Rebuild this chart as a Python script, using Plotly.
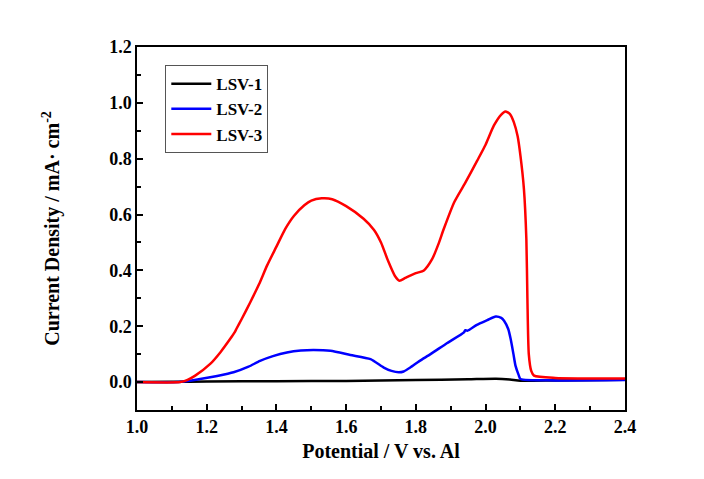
import plotly.graph_objects as go

# LSV-1 (black)
x1 = [1.0, 1.1, 1.2, 1.4, 1.6, 1.8, 1.95, 2.03, 2.07, 2.1, 2.2, 2.4]
y1 = [0.0, 0.001, 0.002, 0.003, 0.004, 0.007, 0.010, 0.012, 0.009, 0.005, 0.006, 0.008]

# LSV-2 (blue)
x2 = [1.0, 1.119, 1.181, 1.23, 1.277, 1.32, 1.353, 1.39, 1.43, 1.47, 1.507, 1.555, 1.612, 1.67,
      1.708, 1.73, 1.751, 1.765, 1.784, 1.81, 1.842, 1.89, 1.938, 1.942, 1.948, 1.975, 2.005,
      2.029, 2.045, 2.053, 2.065, 2.072, 2.08, 2.086, 2.095, 2.10, 2.2, 2.4]
y2 = [0.0, 0.0, 0.011, 0.022, 0.035, 0.055, 0.076, 0.093, 0.106, 0.113, 0.115, 0.112, 0.097, 0.082,
      0.052, 0.040, 0.035, 0.038, 0.052, 0.075, 0.100, 0.140, 0.178, 0.186, 0.184, 0.205, 0.222,
      0.235, 0.230, 0.220, 0.190, 0.154, 0.100, 0.058, 0.025, 0.011, 0.006, 0.007]

# LSV-3 (red)
x3 = [1.0, 1.124, 1.145, 1.167, 1.21, 1.24, 1.267, 1.28, 1.285, 1.30, 1.325, 1.35, 1.373, 1.40,
      1.425, 1.45, 1.48, 1.50, 1.53, 1.56, 1.60, 1.65, 1.68, 1.70, 1.72, 1.74, 1.753, 1.77,
      1.80, 1.823, 1.847, 1.865, 1.88, 1.91, 1.94, 1.976, 2.0, 2.024, 2.045, 2.057, 2.07,
      2.081, 2.092, 2.10, 2.11, 2.117, 2.12, 2.124, 2.131, 2.139, 2.2, 2.4]
y3 = [0.0, 0.0, 0.008, 0.023, 0.065, 0.108, 0.154, 0.178, 0.190, 0.225, 0.286, 0.350, 0.417, 0.485,
      0.548, 0.595, 0.633, 0.650, 0.658, 0.655, 0.630, 0.585, 0.545, 0.500, 0.435, 0.380, 0.363, 0.373,
      0.390, 0.400, 0.441, 0.495, 0.548, 0.644, 0.710, 0.793, 0.850, 0.919, 0.958, 0.969, 0.960,
      0.931, 0.880, 0.811, 0.692, 0.513, 0.300, 0.100, 0.040, 0.023, 0.015, 0.013]

names = ["LSV-1", "LSV-2", "LSV-3"]
colors = ["#000000", "#0000ff", "#ff0000"]
xticks = [1.0, 1.2, 1.4, 1.6, 1.8, 2.0, 2.2, 2.4]
yticks = [0.0, 0.2, 0.4, 0.6, 0.8, 1.0, 1.2]

fig = go.Figure()
for x, y, n, c in zip([x1, x2, x3], [y1, y2, y3], names, colors):
    fig.add_trace(go.Scatter(x=x, y=y, mode="lines", name="<b>" + n + "</b>",
                             line=dict(color=c, width=2.5, shape="spline", smoothing=0.6)))

font_family = "Liberation Serif"
fig.update_layout(
    width=704, height=479,
    margin=dict(l=137, r=79, t=47, b=69),
    paper_bgcolor="white", plot_bgcolor="white",
    font=dict(family=font_family, size=18, color="black"),
    showlegend=True,
    legend=dict(x=0.058, y=0.95, xanchor="left", yanchor="top",
                bordercolor="#555555", borderwidth=1, bgcolor="white",
                font=dict(family=font_family, size=17, color="black"),
                tracegroupgap=0, itemwidth=40),
    xaxis=dict(
        range=[1.0, 2.4], tickmode="array",
        tickvals=xticks,
        ticktext=["<b>%.1f</b>" % v for v in xticks],
        ticks="inside", ticklen=6, tickwidth=1.5, tickcolor="black",
        minor=dict(tickmode="array", tickvals=[1.1, 1.3, 1.5, 1.7, 1.9, 2.1, 2.3],
                   ticks="inside", ticklen=4, tickwidth=1.5, tickcolor="black"),
        showline=True, linecolor="black", linewidth=1.5, mirror=True,
        showgrid=False, zeroline=False,
        tickfont=dict(family=font_family, size=18, color="black"),
        title=dict(text="<b>Potential / V vs. Al</b>", standoff=8,
                   font=dict(family=font_family, size=20, color="black")),
    ),
    yaxis=dict(
        range=[-0.1, 1.2], tickmode="array",
        tickvals=yticks,
        ticktext=["<b>%.1f</b>" % v for v in yticks],
        ticks="inside", ticklen=6, tickwidth=1.5, tickcolor="black",
        minor=dict(tickmode="array", tickvals=[0.1, 0.3, 0.5, 0.7, 0.9, 1.1],
                   ticks="inside", ticklen=4, tickwidth=1.5, tickcolor="black"),
        showline=True, linecolor="black", linewidth=1.5, mirror=True,
        showgrid=False, zeroline=False,
        tickfont=dict(family=font_family, size=18, color="black"),
        title=dict(text="<b>Current Density / mA· cm<sup>-2</sup></b>", standoff=44,
                   font=dict(family=font_family, size=20, color="black")),
    ),
)

fig.write_html("out.html")
